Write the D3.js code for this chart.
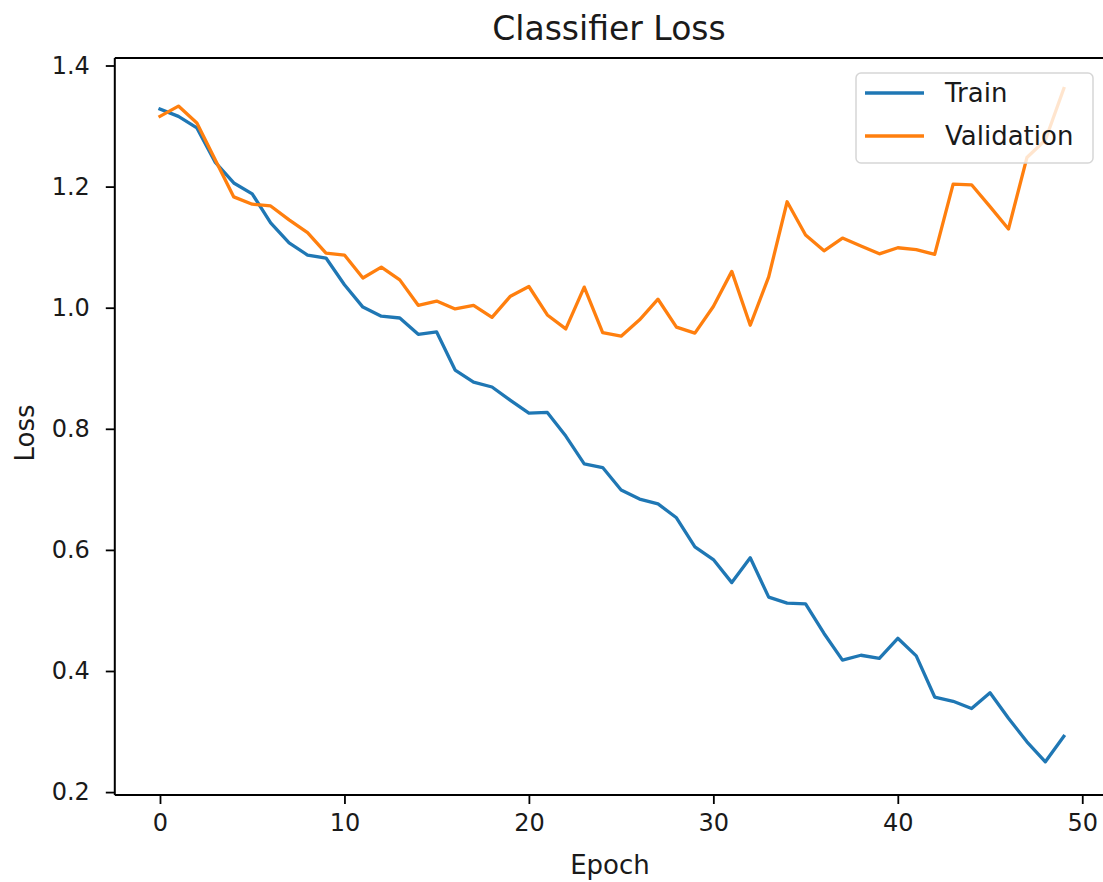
<!DOCTYPE html>
<html>
<head>
<meta charset="utf-8">
<script src="https://cdn.jsdelivr.net/npm/d3@7"></script>
<style>
  html, body { margin: 0; padding: 0; background: #fff; }
  svg { display: block; font-family: "DejaVu Sans", sans-serif; }
</style>
</head>
<body>
<svg id="chart" width="1103" height="882"></svg>
<script>
const epochs = d3.range(50);
const trainLoss = [
  1.328, 1.316, 1.297, 1.240, 1.206, 1.188, 1.140, 1.107, 1.087, 1.082,
  1.038, 1.001, 0.986, 0.983, 0.956, 0.960, 0.897, 0.877, 0.869, 0.847,
  0.826, 0.827, 0.788, 0.742, 0.736, 0.699, 0.684, 0.676, 0.653, 0.605,
  0.584, 0.546, 0.587, 0.522, 0.512, 0.511, 0.462, 0.418, 0.426, 0.421,
  0.454, 0.425, 0.357, 0.350, 0.338, 0.364, 0.322, 0.283, 0.250, 0.292
];
const valLoss = [
  1.316, 1.333, 1.305, 1.244, 1.183, 1.171, 1.168, 1.145, 1.124, 1.090,
  1.087, 1.049, 1.067, 1.046, 1.004, 1.011, 0.998, 1.004, 0.984, 1.019,
  1.035, 0.988, 0.965, 1.034, 0.959, 0.953, 0.980, 1.014, 0.968, 0.958,
  1.002, 1.060, 0.971, 1.051, 1.175, 1.120, 1.094, 1.115, 1.102, 1.089,
  1.099, 1.096, 1.088, 1.204, 1.203, 1.167, 1.130, 1.248, 1.277, 1.362
];
const seriesNames = ["Train", "Validation"];
const seriesColors = ["#1f77b4", "#ff7f0e"];
const xTicks = [0, 10, 20, 30, 40, 50];
const yTicks = [0.2, 0.4, 0.6, 0.8, 1.0, 1.2, 1.4];
const titleText = "Classifier Loss";
const xLabel = "Epoch";
const yLabel = "Loss";

const svg = d3.select("#chart");
const plotL = 114.8, plotR = 1109, plotT = 58, plotB = 795;

const x = d3.scaleLinear().domain([-2.45, 51.45]).range([plotL, plotR]);
const y = d3.scaleLinear().domain([0.1952, 1.4124]).range([plotB, plotT]);

const line = d3.line().x((d, i) => x(epochs[i])).y(d => y(d));

// lines
[trainLoss, valLoss].forEach((s, k) => {
  svg.append("path")
    .datum(s)
    .attr("d", line)
    .attr("fill", "none")
    .attr("stroke", seriesColors[k])
    .attr("stroke-width", 3.3)
    .attr("stroke-linejoin", "round")
    .attr("stroke-linecap", "square");
});

// spines
svg.append("line").attr("x1", plotL).attr("x2", plotL).attr("y1", plotT).attr("y2", plotB)
  .attr("stroke", "#000").attr("stroke-width", 2);
svg.append("line").attr("x1", plotL).attr("x2", plotR).attr("y1", plotT).attr("y2", plotT)
  .attr("stroke", "#000").attr("stroke-width", 2);
svg.append("line").attr("x1", plotL).attr("x2", plotR).attr("y1", plotB).attr("y2", plotB)
  .attr("stroke", "#000").attr("stroke-width", 2);

// axes
const xAxis = svg.append("g").attr("transform", `translate(0,${plotB})`)
  .call(d3.axisBottom(x).tickValues(xTicks).tickFormat(d3.format("d")).tickSize(9).tickPadding(10).tickSizeOuter(0));
const yAxis = svg.append("g").attr("transform", `translate(${plotL},0)`)
  .call(d3.axisLeft(y).tickValues(yTicks).tickFormat(d3.format(".1f")).tickSize(9).tickPadding(16).tickSizeOuter(0));
[xAxis, yAxis].forEach(a => {
  a.select(".domain").remove();
  a.selectAll(".tick line").attr("stroke", "#000").attr("stroke-width", 1.8);
  a.selectAll(".tick text").attr("fill", "#1a1a1a").style("font-size", "24px")
    .style("font-family", "'DejaVu Sans', sans-serif");
});

// title and axis labels
svg.append("text").attr("x", 609).attr("y", 40).attr("text-anchor", "middle")
  .style("font-size", "33px").attr("fill", "#1a1a1a").text(titleText);
svg.append("text").attr("x", 610).attr("y", 874).attr("text-anchor", "middle")
  .style("font-size", "26px").attr("fill", "#1a1a1a").text(xLabel);
svg.append("text").attr("transform", "translate(34,433) rotate(-90)").attr("text-anchor", "middle")
  .style("font-size", "26px").attr("fill", "#1a1a1a").text(yLabel);

// legend
const lg = svg.append("g");
lg.append("rect").attr("x", 856).attr("y", 73).attr("width", 237).attr("height", 90)
  .attr("rx", 5).attr("ry", 5).attr("fill", "rgba(255,255,255,0.8)")
  .attr("stroke", "#d6d6d6").attr("stroke-width", 1.5);
seriesNames.forEach((name, k) => {
  const yy = 93 + k * 43;
  lg.append("line").attr("x1", 865).attr("x2", 924).attr("y1", yy).attr("y2", yy)
    .attr("stroke", seriesColors[k]).attr("stroke-width", 3.3);
  lg.append("text").attr("x", 945).attr("y", yy + 9).style("font-size", "26px")
    .attr("fill", "#1a1a1a").text(name);
});
</script>
</body>
</html>
